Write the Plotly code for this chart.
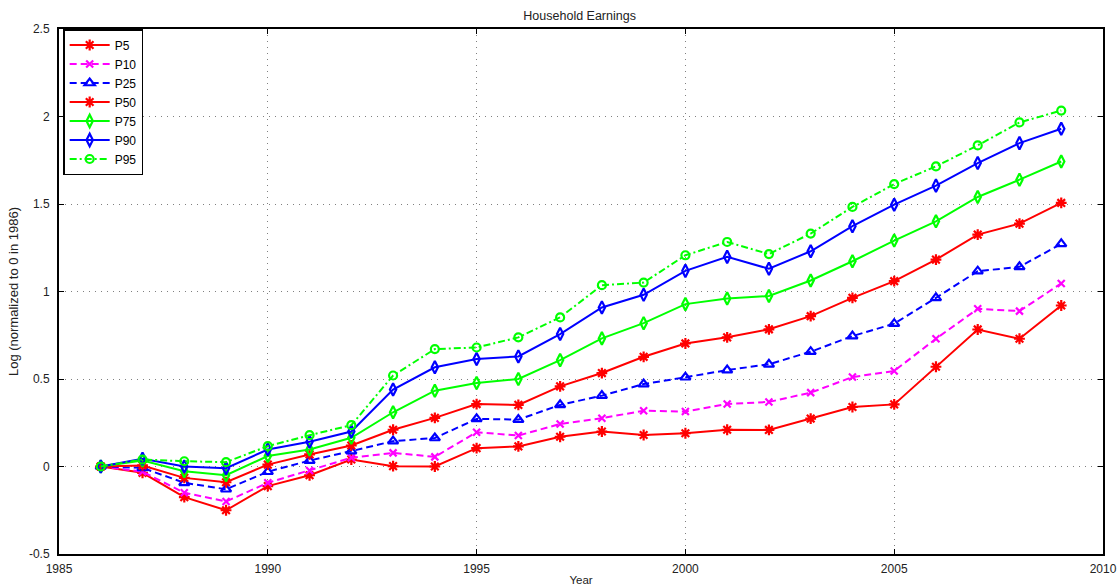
import plotly.graph_objects as go

years = list(range(1986, 2010))

p5 = [0.0, -0.036, -0.175, -0.25, -0.112, -0.05, 0.04, 0.002, 0.0, 0.105, 0.115, 0.17, 0.20, 0.18,
      0.19, 0.21, 0.209, 0.274, 0.34, 0.355, 0.57, 0.783, 0.73, 0.92]
p10 = [0.0, -0.03, -0.15, -0.2, -0.093, -0.023, 0.05, 0.078, 0.055, 0.196, 0.177, 0.243, 0.276, 0.319,
       0.314, 0.357, 0.369, 0.422, 0.511, 0.546, 0.73, 0.901, 0.888, 1.046]
p25 = [0.0, -0.008, -0.093, -0.13, -0.03, 0.034, 0.088, 0.145, 0.163, 0.272, 0.268, 0.352, 0.405, 0.471,
       0.51, 0.551, 0.584, 0.656, 0.745, 0.816, 0.964, 1.116, 1.141, 1.272]
p50 = [0.0, 0.006, -0.065, -0.09, 0.011, 0.069, 0.12, 0.21, 0.278, 0.357, 0.352, 0.458, 0.534, 0.627,
       0.703, 0.738, 0.784, 0.859, 0.964, 1.059, 1.182, 1.325, 1.388, 1.506]
p75 = [0.0, 0.034, -0.027, -0.05, 0.06, 0.097, 0.164, 0.31, 0.433, 0.477, 0.5, 0.608, 0.732, 0.819,
       0.928, 0.96, 0.974, 1.063, 1.173, 1.291, 1.401, 1.54, 1.639, 1.743]
p90 = [0.0, 0.044, 0.0, -0.01, 0.097, 0.141, 0.2, 0.44, 0.567, 0.614, 0.629, 0.757, 0.909, 0.981,
       1.118, 1.198, 1.13, 1.23, 1.373, 1.496, 1.605, 1.734, 1.848, 1.93]
p95 = [0.0, 0.04, 0.03, 0.025, 0.116, 0.179, 0.236, 0.52, 0.671, 0.68, 0.738, 0.852, 1.036, 1.051,
       1.207, 1.283, 1.214, 1.331, 1.483, 1.614, 1.715, 1.835, 1.966, 2.034]

series_names = ["P5", "P10", "P25", "P50", "P75", "P90", "P95"]
x_ticks = [1985, 1990, 1995, 2000, 2005, 2010]
y_ticks = [-0.5, 0, 0.5, 1, 1.5, 2, 2.5]

styles = {
    "P5":  dict(color="#FF0000", dash="solid", symbol="asterisk-open", size=9),
    "P10": dict(color="#FF00FF", dash="7px,4px", symbol="x-thin-open", size=7),
    "P25": dict(color="#0000FF", dash="7px,4px", symbol="triangle-up-open", size=9),
    "P50": dict(color="#FF0000", dash="solid", symbol="asterisk-open", size=9),
    "P75": dict(color="#00FF00", dash="solid", symbol="diamond-tall-open", size=9),
    "P90": dict(color="#0000FF", dash="solid", symbol="diamond-tall-open", size=9),
    "P95": dict(color="#00FF00", dash="7px,3px,2px,3px", symbol="circle-open", size=8),
}

data = [p5, p10, p25, p50, p75, p90, p95]

fig = go.Figure()
for name, values in zip(series_names, data):
    s = styles[name]
    fig.add_trace(go.Scatter(
        x=years, y=values, name=name, mode="lines+markers",
        line=dict(color=s["color"], width=2, dash=s["dash"]),
        marker=dict(symbol=s["symbol"], size=s["size"], color=s["color"],
                    line=dict(color=s["color"], width=2.2)),
    ))

font_name = "Liberation Sans"
axis_common = dict(
    showline=True, linecolor="black", linewidth=2, mirror="allticks",
    ticks="inside", ticklen=5, tickcolor="black", tickwidth=1,
    showgrid=True, gridcolor="#808080", griddash="1px,5px", gridwidth=1,
    zeroline=False, automargin=False,
    tickfont=dict(family=font_name, size=12, color="#222"),
)

fig.update_xaxes(range=[1985, 2010], tickvals=x_ticks, ticklabelstandoff=3,
                 title=dict(text="Year", standoff=6,
                            font=dict(family=font_name, size=11.5, color="#222")),
                 **axis_common)
fig.update_yaxes(range=[-0.5, 2.5], tickvals=y_ticks, ticklabelstandoff=5,
                 ticktext=[str(v) for v in y_ticks],
                 title=dict(text="Log (normalized to 0 in 1986)", standoff=7,
                            font=dict(family=font_name, size=13, color="#222")),
                 **axis_common)

fig.update_layout(
    width=1119, height=586,
    margin=dict(l=59, r=16, t=29, b=32),
    paper_bgcolor="white", plot_bgcolor="white",
    title=dict(text="Household Earnings", x=0.518, xanchor="center", y=0.974, yanchor="middle",
               font=dict(family=font_name, size=12.5, color="#222")),
    legend=dict(x=0.004, y=1.0, xanchor="left", yanchor="top",
                bgcolor="white", bordercolor="black", borderwidth=1.5,
                font=dict(family=font_name, size=12, color="black"),
                tracegroupgap=0, itemwidth=40),
    showlegend=True,
)

fig.write_html("out.html")
